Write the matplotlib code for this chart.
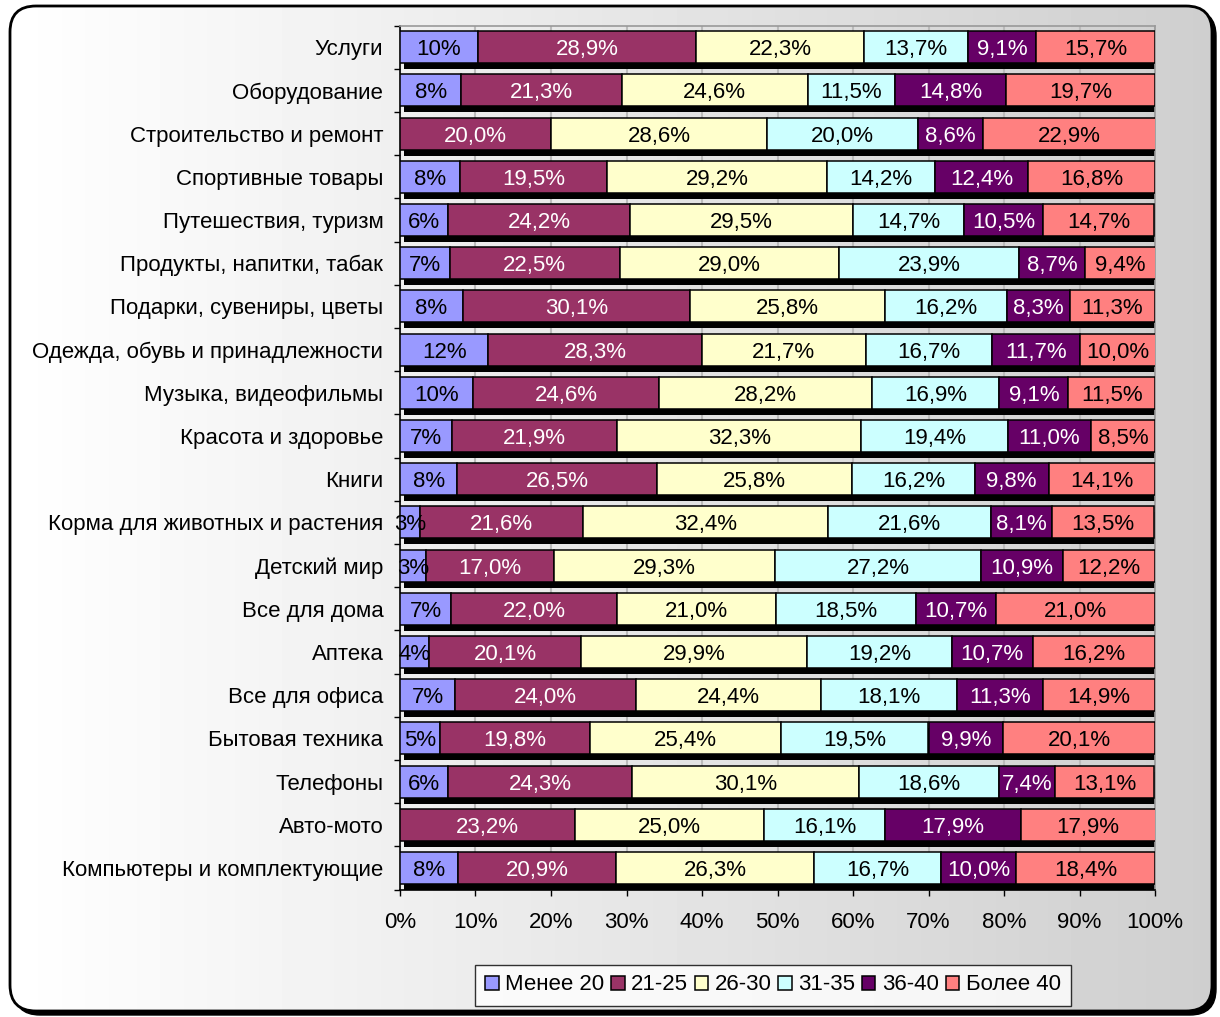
import numpy as np
import matplotlib
matplotlib.use("Agg")
import matplotlib.pyplot as plt
from matplotlib.patches import FancyBboxPatch

plt.rcParams['font.family'] = ['Liberation Sans', 'DejaVu Sans']

categories = [
    "Услуги", "Оборудование", "Строительство и ремонт", "Спортивные товары",
    "Путешествия, туризм", "Продукты, напитки, табак", "Подарки, сувениры, цветы",
    "Одежда, обувь и принадлежности", "Музыка, видеофильмы", "Красота и здоровье",
    "Книги", "Корма для животных и растения", "Детский мир", "Все для дома",
    "Аптека", "Все для офиса", "Бытовая техника", "Телефоны", "Авто-мото",
    "Компьютеры и комплектующие",
]
series_names = ["Менее 20", "21-25", "26-30", "31-35", "36-40", "Более 40"]

under20 = [10.3, 8.1, 0.0, 7.9, 6.3, 6.6, 8.3, 11.7, 9.7, 6.9,
           7.6, 2.7, 3.4, 6.8, 3.9, 7.3, 5.3, 6.4, 0.0, 7.7]
age21_25 = [28.9, 21.3, 20.0, 19.5, 24.2, 22.5, 30.1, 28.3, 24.6, 21.9,
            26.5, 21.6, 17.0, 22.0, 20.1, 24.0, 19.8, 24.3, 23.2, 20.9]
age26_30 = [22.3, 24.6, 28.6, 29.2, 29.5, 29.0, 25.8, 21.7, 28.2, 32.3,
            25.8, 32.4, 29.3, 21.0, 29.9, 24.4, 25.4, 30.1, 25.0, 26.3]
age31_35 = [13.7, 11.5, 20.0, 14.2, 14.7, 23.9, 16.2, 16.7, 16.9, 19.4,
            16.2, 21.6, 27.2, 18.5, 19.2, 18.1, 19.5, 18.6, 16.1, 16.7]
age36_40 = [9.1, 14.8, 8.6, 12.4, 10.5, 8.7, 8.3, 11.7, 9.1, 11.0,
            9.8, 8.1, 10.9, 10.7, 10.7, 11.3, 9.9, 7.4, 17.9, 10.0]
over40 = [15.7, 19.7, 22.9, 16.8, 14.7, 9.4, 11.3, 10.0, 11.5, 8.5,
          14.1, 13.5, 12.2, 21.0, 16.2, 14.9, 20.1, 13.1, 17.9, 18.4]

series = [under20, age21_25, age26_30, age31_35, age36_40, over40]
colors = ["#9999FF", "#993366", "#FFFFCC", "#CCFFFF", "#660066", "#FF8080"]
text_colors = ["black", "white", "black", "black", "white", "black"]
label_fmt = ["{:.0f}%", "{:.1f}%", "{:.1f}%", "{:.1f}%", "{:.1f}%", "{:.1f}%"]

FS = 16
W, H = 1220, 1017
fig = plt.figure(figsize=(W / 100, H / 100), dpi=100)

# background frame with gradient
bg = fig.add_axes([0, 0, 1, 1])
bg.set_xlim(0, W)
bg.set_ylim(0, H)
bg.axis('off')
shadow = FancyBboxPatch((14, 2), 1202, 1005, boxstyle="round,pad=0,rounding_size=26",
                        facecolor='black', edgecolor='black', lw=1)
bg.add_patch(shadow)
frame = FancyBboxPatch((10, 6), 1202, 1005, boxstyle="round,pad=0,rounding_size=26",
                       facecolor='none', edgecolor='black', lw=2, zorder=3)
bg.add_patch(frame)
grad = np.linspace(1.0, 0.81, 256).reshape(1, -1)
im = bg.imshow(grad, cmap='gray', vmin=0, vmax=1, extent=[10, 1212, 6, 1011],
               aspect='auto', zorder=2)
im.set_clip_path(frame)

ax = fig.add_axes([400 / W, 1 - 889.6 / H, 755 / W, 864 / H])
ax.patch.set_alpha(0)

y = np.arange(len(categories))
totals = np.sum(series, axis=0)
bar_h = 0.74

# bar shadows
ax.barh(y + 0.14, totals, left=0.55, height=bar_h, color='black', zorder=2)

left = np.zeros(len(categories))
for vals, name, col, tcol, fmt in zip(series, series_names, colors, text_colors, label_fmt):
    vals = np.array(vals)
    ax.barh(y, vals, left=left, height=bar_h, color=col, edgecolor='black',
            linewidth=1.1, label=name, zorder=3)
    for yi, (l, v) in enumerate(zip(left, vals)):
        if v > 0:
            ax.text(l + v / 2, yi, fmt.format(v).replace('.', ','), ha='center',
                    va='center_baseline', color=tcol, fontsize=FS, zorder=4)
    left = left + vals

ax.set_xlim(0, 100)
ax.set_ylim(len(categories) - 0.5, -0.5)
ax.set_xticks(np.arange(0, 101, 10))
ax.set_xticklabels([f"{v}%" for v in range(0, 101, 10)], fontsize=FS)
ax.set_yticks(y)
ax.set_yticklabels(categories, fontsize=FS)
ax.set_yticks(np.arange(-0.5, len(categories), 1), minor=True)
ax.tick_params(axis='y', which='major', length=0, pad=12)
ax.tick_params(axis='y', which='minor', length=4, width=1, color='black')
ax.tick_params(axis='x', length=4, width=1, pad=12, color='black')
ax.grid(axis='x', color='#BBBBBB', lw=1.5, zorder=1)
ax.set_axisbelow(True)
for s in ['top', 'right']:
    ax.spines[s].set_color('#999999')
    ax.spines[s].set_linewidth(1.2)
for s in ['left', 'bottom']:
    ax.spines[s].set_color('black')
    ax.spines[s].set_linewidth(1.2)

leg = fig.legend(loc='center', bbox_to_anchor=(773 / W, 1 - 985 / H), ncol=6,
                 fontsize=FS, frameon=True, fancybox=False, handlelength=0.6,
                 handleheight=0.6, handletextpad=0.3, columnspacing=0.3,
                 borderpad=0.45, borderaxespad=0)
leg.get_frame().set_edgecolor('black')
leg.get_frame().set_facecolor('white')
leg.get_frame().set_linewidth(1)

fig.savefig("out.png", dpi=100)
